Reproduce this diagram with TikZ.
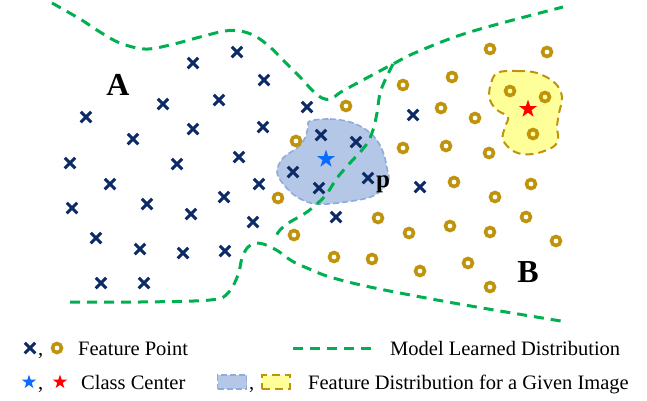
\documentclass[tikz,border=0pt]{standalone}
\usepackage{fontspec}
\setmainfont{Liberation Serif}
\usetikzlibrary{shapes.misc,shapes.geometric}
\definecolor{ptnavy}{HTML}{0B2A66}
\definecolor{ptgold}{HTML}{C0930C}
\definecolor{lrngreen}{HTML}{00B050}
\definecolor{ctrblue}{HTML}{0A6CFF}
\definecolor{blobblue}{HTML}{B4C7E7}
\definecolor{blobedge}{HTML}{8FAADC}
\definecolor{blobyel}{HTML}{FFFF99}

\begin{document}
\begin{tikzpicture}[x=1pt,y=-1pt,
  xpt/.style={cross out,draw=ptnavy,line width=3pt,minimum size=7.5pt,inner sep=0pt},
  opt/.style={circle,draw=ptgold,line width=3.6pt,minimum size=9pt,inner sep=0pt},
  ctr/.style={star,star points=5,star point ratio=2.6,draw=none,inner sep=0pt,minimum size=19pt},
  learned/.style={draw=lrngreen,line width=3pt,dash pattern=on 10pt off 7pt},
  bluearea/.style={fill=blobblue,draw=blobedge,line width=1.6pt,dash pattern=on 6pt off 3pt},
  yelarea/.style={fill=blobyel,draw=ptgold,line width=2pt,dash pattern=on 8pt off 5pt},
  lbl/.style={font=\fontsize{20.5}{24}\selectfont,inner sep=0pt,anchor=base west},
  big/.style={font=\bfseries\fontsize{32}{36}\selectfont,inner sep=0pt}]
\useasboundingbox (0,0) rectangle (647,400);

\draw[bluearea] plot[smooth cycle,tension=0.6] coordinates {(310,121) (330,119) (350,122) (365,129) (376,139) (383,152) (387,168) (388,182) (373,196) (345,202) (316,204) (297,197) (284,185) (277,172) (283,158) (297,148) (305,138) (308,127)};
\draw[yelarea] plot[smooth cycle,tension=0.6] coordinates {(497,73) (517,71) (537,73) (555,83) (562,97) (559,113) (557,127) (558,138) (553,147) (533,154) (515,152) (503,140) (505,127) (508,117) (497,110) (490,100) (490,87)};

\coordinate (join) at (393,64);
\draw[learned] plot[smooth,tension=0.6] coordinates {(52,3) (80,19) (100,32) (120,43) (145,49) (170,45) (200,37) (225,31) (240,31) (255,36) (270,47) (285,62) (300,77) (312,90) (322,98) (331,99) (341,92) (363,80) (join) (417,52) (470,32) (563,7)};
\draw[learned] plot[smooth,tension=0.6] coordinates {(join) (381,90) (377,113) (373,130) (366,145) (350,163) (337,178) (325,196) (307,212) (290,222) (280,230) (275,238)};
\draw[learned] plot[smooth,tension=0.6] coordinates {(70,302) (140,302) (210,300) (228,293) (238,275) (242,258) (248,247) (256,243) (266,245) (278,251) (292,261) (307,268) (330,277) (370,287) (437,300) (500,311) (567,322)};

\foreach \p [count=\i] in {(237,52),(193,63),(264,80),(163,104),(219,100),(86,117),(193,129),(263,127),(133,139),(307,107),(70,163),(177,164),(239,157),(110,184),(259,184),(72,208),(147,204),(224,197),(191,214),(253,222),(96,238),(140,249),(183,253),(225,251),(101,283),(144,283),(321,135),(356,142),(293,172),(319,188),(368,178),(413,115),(420,187),(336,217)}
  \node[xpt] (x\i) at \p {};
\foreach \p [count=\i] in {(490,49),(547,52),(452,77),(403,85),(346,106),(441,108),(475,118),(510,91),(545,97),(533,134),(296,141),(403,148),(446,146),(489,153),(278,198),(454,182),(531,184),(495,197),(378,218),(409,233),(450,226),(490,232),(526,217),(556,241),(294,235),(334,257),(372,259),(420,271),(468,263),(490,287)}
  \node[opt] (o\i) at \p {};

\node[ctr,fill=ctrblue] (ctrA) at (326,159) {};
\node[ctr,fill=red] (ctrB) at (528,109) {};

\node[big] (labA) at (118,85) {A};
\node[big] (labB) at (528,272) {B};
\node[font=\bfseries\fontsize{25}{28}\selectfont,inner sep=0pt] (labp) at (383,184) {p};

\node[xpt] (legx) at (30,348) {};
\node[lbl] (legc1) at (38,355) {,};
\node[opt] (lego) at (57,348) {};
\node[lbl] (legpt) at (78,355) {Feature Point};
\node[ctr,fill=ctrblue,minimum size=15pt] (legsa) at (29,382) {};
\node[lbl] (legc2) at (38,389) {,};
\node[ctr,fill=red,minimum size=15pt] (legsb) at (60,382) {};
\node[lbl] (legctr) at (81,389) {Class Center};
\coordinate (legl1) at (293,348);
\coordinate (legl2) at (374,348);
\draw[learned] (legl1) -- (legl2);
\node[lbl] (legmod) at (390,355) {Model Learned Distribution};
\node[bluearea,minimum width=29pt,minimum height=14pt,inner sep=0pt] (legba) at (232,382) {};
\node[lbl] (legc3) at (249,389) {,};
\node[yelarea,minimum width=28pt,minimum height=14pt,inner sep=0pt] (legya) at (276,382) {};
\node[lbl] (legdist) at (308,389) {Feature Distribution for a Given Image};
\end{tikzpicture}
\end{document}
